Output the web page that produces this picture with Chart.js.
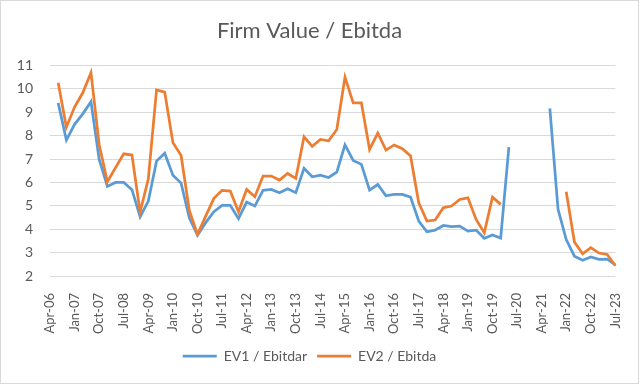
<!DOCTYPE html>
<html>
<head>
<meta charset="utf-8">
<script src="https://cdn.jsdelivr.net/npm/chart.js@4"></script>
<style>
html,body{margin:0;padding:0;background:#fff;}
#wrap{width:640px;height:384px;position:relative;}
</style>
</head>
<body>
<div id="wrap"><canvas id="c" width="640" height="384"></canvas></div>
<script>
const categories = ["Apr-06","Jul-06","Oct-06","Jan-07","Apr-07","Jul-07","Oct-07","Jan-08","Apr-08","Jul-08","Oct-08","Jan-09","Apr-09","Jul-09","Oct-09","Jan-10","Apr-10","Jul-10","Oct-10","Jan-11","Apr-11","Jul-11","Oct-11","Jan-12","Apr-12","Jul-12","Oct-12","Jan-13","Apr-13","Jul-13","Oct-13","Jan-14","Apr-14","Jul-14","Oct-14","Jan-15","Apr-15","Jul-15","Oct-15","Jan-16","Apr-16","Jul-16","Oct-16","Jan-17","Apr-17","Jul-17","Oct-17","Jan-18","Apr-18","Jul-18","Oct-18","Jan-19","Apr-19","Jul-19","Oct-19","Jan-20","Apr-20","Jul-20","Oct-20","Jan-21","Apr-21","Jul-21","Oct-21","Jan-22","Apr-22","Jul-22","Oct-22","Jan-23","Apr-23","Jul-23"];

const tickLabels = ["Apr-06","Jan-07","Oct-07","Jul-08","Apr-09","Jan-10","Oct-10","Jul-11","Apr-12","Jan-13","Oct-13","Jul-14","Apr-15","Jan-16","Oct-16","Jul-17","Apr-18","Jan-19","Oct-19","Jul-20","Apr-21","Jan-22","Oct-22","Jul-23"];

const ev1Ebitdar = [null,9.40,7.81,8.48,8.93,9.45,6.98,5.83,6.00,6.00,5.69,4.53,5.20,6.91,7.25,6.31,5.97,4.49,3.74,4.28,4.75,5.02,5.02,4.45,5.16,4.99,5.66,5.70,5.56,5.73,5.56,6.60,6.24,6.31,6.21,6.44,7.60,6.94,6.77,5.67,5.91,5.43,5.49,5.49,5.37,4.35,3.89,3.96,4.16,4.11,4.13,3.92,3.96,3.61,3.75,3.62,7.51,null,null,null,null,9.16,4.85,3.56,2.85,2.67,2.81,2.71,2.72,2.47];

const ev2Ebitda = [null,10.26,8.36,9.22,9.83,10.69,7.62,6.03,6.63,7.22,7.17,4.73,6.15,9.95,9.86,7.70,7.15,4.80,3.78,4.56,5.32,5.66,5.63,4.75,5.70,5.39,6.27,6.27,6.10,6.38,6.17,7.95,7.54,7.84,7.78,8.26,10.50,9.40,9.40,7.41,8.11,7.38,7.60,7.44,7.13,5.13,4.35,4.39,4.92,4.99,5.27,5.34,4.42,3.85,5.37,5.06,null,null,null,null,null,null,null,5.60,3.45,2.95,3.21,2.98,2.92,2.44];

const seriesNames = ["EV1 / Ebitdar","EV2 / Ebitda"];
const titleText = "Firm Value / Ebitda";

const FONT = "Lato, 'Open Sans', sans-serif";
const TXT = "#595959";

const bgBorder = {
  id: 'bgBorder',
  beforeDraw(chart) {
    const ctx = chart.ctx;
    ctx.save();
    ctx.fillStyle = '#ffffff';
    ctx.fillRect(0, 0, chart.width, chart.height);
    ctx.strokeStyle = '#d9d9d9';
    ctx.lineWidth = 1;
    ctx.strokeRect(0.5, 0.5, chart.width - 2, chart.height - 1);
    ctx.restore();
  }
};

new Chart(document.getElementById('c'), {
  type: 'line',
  data: {
    labels: categories,
    datasets: [
      { label: seriesNames[0], data: ev1Ebitdar, borderColor: '#5B9BD5', backgroundColor: '#5B9BD5', borderWidth: 2.75, pointRadius: 0, tension: 0, spanGaps: false, order: 1 },
      { label: seriesNames[1], data: ev2Ebitda, borderColor: '#ED7D31', backgroundColor: '#ED7D31', borderWidth: 2.75, pointRadius: 0, tension: 0, spanGaps: false, order: 0 }
    ]
  },
  options: {
    responsive: false,
    animation: false,
    devicePixelRatio: 1,
    layout: { padding: { left: 0, right: 21, top: 0, bottom: 11 } },
    plugins: {
      title: { display: true, text: titleText, color: TXT, font: { family: FONT, size: 22, weight: 'normal' }, padding: { top: 18, bottom: 21 } },
      legend: {
        position: 'bottom',
        labels: {
          color: TXT, font: { family: FONT, size: 14 },
          usePointStyle: true, pointStyle: 'line', pointStyleWidth: 34, boxHeight: 14,
          padding: 10,
          sort: (a, b) => a.datasetIndex - b.datasetIndex
        }
      },
      tooltip: { enabled: false }
    },
    scales: {
      x: {
        offset: false,
        grid: { display: false },
        border: { display: false },
        ticks: {
          autoSkip: false, maxRotation: 90, minRotation: 90, padding: 9,
          color: TXT, font: { family: FONT, size: 13 },
          callback: function(v, i) { const l = categories[i]; return tickLabels.includes(l) ? l : ''; }
        },
        afterFit: (s) => { s.height = 63; }
      },
      y: {
        min: 2, max: 11,
        grid: { color: '#d9d9d9', lineWidth: 1, drawTicks: false },
        border: { display: false },
        ticks: { stepSize: 1, padding: 17, color: TXT, font: { family: FONT, size: 14 } },
        afterFit: (s) => { s.width = 50; }
      }
    }
  },
  plugins: [bgBorder]
});
</script>
</body>
</html>
